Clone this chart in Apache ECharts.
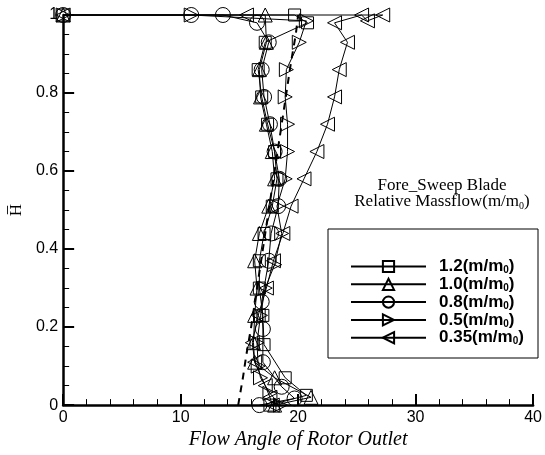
<!DOCTYPE html>
<html><head><meta charset="utf-8">
<script src="https://cdn.jsdelivr.net/npm/echarts@6/dist/echarts.min.js"></script>
<style>html,body{margin:0;padding:0;background:#fff}#c{width:545px;height:455px}</style>
</head><body><div id="c"></div>
<script>
// Series data: [flow angle, relative height H]
const s12 = [[17.6,0],[20.7,0.025],[18.9,0.07],[17.1,0.155],[17.0,0.23],[16.7,0.30],[16.7,0.37],[17.1,0.44],[17.8,0.51],[18.2,0.58],[18.0,0.65],[17.4,0.72],[16.9,0.79],[16.6,0.86],[17.2,0.93],[20.8,0.98],[19.7,1.0],[0,1.0]];
const s10 = [[18.0,0],[21.1,0.02],[18.0,0.07],[16.3,0.11],[16.2,0.16],[16.3,0.23],[16.5,0.30],[16.3,0.37],[16.7,0.44],[17.5,0.51],[18.0,0.58],[17.8,0.65],[17.3,0.72],[16.8,0.79],[16.7,0.86],[17.3,0.93],[17.2,1.0],[0,1.0]];
const s08 = [[16.7,0],[19.7,0.017],[18.6,0.047],[17.0,0.11],[17.0,0.195],[16.9,0.265],[17.5,0.37],[17.7,0.44],[18.3,0.51],[18.4,0.58],[18.0,0.65],[17.6,0.72],[17.1,0.79],[16.9,0.86],[17.5,0.93],[16.5,0.98],[13.6,1.0],[10.9,1.0],[0,1.0]];
const s05 = [[18.5,0],[17.6,0.03],[16.8,0.07],[16.6,0.10],[16.5,0.16],[16.8,0.23],[17.2,0.30],[18.0,0.36],[18.6,0.44],[18.2,0.51],[18.9,0.58],[19.1,0.65],[19.1,0.72],[18.9,0.79],[19.0,0.86],[20.1,0.93],[20.7,0.985],[10.9,1.0],[0,1.0]];
const s035 = [[17.8,0],[17.6,0.02],[17.2,0.05],[16.3,0.11],[16.1,0.16],[16.6,0.23],[17.3,0.30],[17.9,0.37],[18.7,0.44],[19.4,0.51],[20.5,0.58],[21.6,0.65],[22.5,0.72],[23.1,0.79],[23.5,0.86],[24.2,0.93],[23.1,0.98],[25.4,1.0],[25.9,0.985],[27.2,1.0],[15.6,1.0],[0,1.0]];
const sDash = [[14.9,0],[15.3,0.07],[15.6,0.13],[16.0,0.2],[16.5,0.3],[17.0,0.4],[17.5,0.5],[18.0,0.6],[18.5,0.7],[19.0,0.8],[19.4,0.88],[19.8,0.95],[20.0,1.0]];
const names = ['1.2','1.0','0.8','0.5','0.35'];
const xTicks = [0,10,20,30,40];
const yTicks = [0,0.2,0.4,0.6,0.8,1];

const chart = echarts.init(document.getElementById('c'));
const mk = (name, data, symbol, size, rot) => ({
  name, type:'line', data, symbol, symbolSize:size, symbolRotate:rot, showAllSymbol:true,
  clip:false, smooth:false,
  lineStyle:{color:'#000', width:1},
  itemStyle:{color:'rgba(0,0,0,0)', borderColor:'#000', borderWidth:1},
  emphasis:{disabled:true}, animation:false
});
chart.setOption({
  animation:false,
  grid:{left:62, right:10, top:15, bottom:38},
  xAxis:{type:'value', min:xTicks[0], max:xTicks[xTicks.length-1], interval:10,
    name:'Flow Angle of Rotor Outlet', nameLocation:'middle', nameGap:19,
    nameTextStyle:{fontFamily:'Liberation Serif', fontStyle:'italic', fontSize:20, color:'#000'},
    axisLine:{lineStyle:{color:'#000', width:2.5}},
    axisTick:{inside:true, length:11, lineStyle:{color:'#000', width:2}},
    minorTick:{show:true, splitNumber:5, length:6, lineStyle:{color:'#000', width:1}},
    splitLine:{show:false},
    axisLabel:{color:'#000', fontFamily:'Liberation Sans', fontSize:16, margin:4}},
  yAxis:{type:'value', min:yTicks[0], max:yTicks[yTicks.length-1], interval:0.2,
    name:'H\u0305', nameLocation:'middle', nameGap:33, nameRotate:90,
    nameTextStyle:{fontFamily:'Liberation Serif', fontSize:17, color:'#000'},
    axisLine:{lineStyle:{color:'#000', width:2.5}},
    axisTick:{inside:true, length:11, lineStyle:{color:'#000', width:2}},
    minorTick:{show:true, splitNumber:4, length:6, lineStyle:{color:'#000', width:1}},
    splitLine:{show:false},
    axisLabel:{color:'#000', fontFamily:'Liberation Sans', fontSize:16, margin:5}},
  legend:{orient:'vertical', left:345, top:253, itemWidth:75, itemHeight:14, itemGap:0.3,
    data:names,
    formatter: n => '{a|' + n + '(m/m}{s|0}{a|)}',
    textStyle:{color:'#000', padding:[0,0,0,8],
      rich:{a:{fontFamily:'Liberation Sans', fontWeight:'bold', fontSize:17, lineHeight:18, color:'#000'},
            s:{fontFamily:'Liberation Sans', fontWeight:'bold', fontSize:10, lineHeight:10, verticalAlign:'bottom', color:'#000'}}}},
  graphic:[
    {type:'rect', shape:{x:328, y:229, width:210, height:129}, style:{fill:'none', stroke:'#000', lineWidth:1}},
    {type:'text', x:442, y:186, style:{text:'Fore_Sweep Blade', font:'17px "Liberation Serif"', fill:'#000', align:'center', verticalAlign:'middle'}},
    {type:'text', x:442, y:202, style:{text:'{a|Relative Massflow(m/m}{s|0}{a|)}', fill:'#000', align:'center', verticalAlign:'middle',
      rich:{a:{fontFamily:'Liberation Serif', fontSize:17, lineHeight:18, fill:'#000'}, s:{fontFamily:'Liberation Serif', fontSize:10, lineHeight:10, verticalAlign:'bottom', fill:'#000'}}}}
  ],
  series:[
    mk('1.2', s12, 'rect', 12, 0),
    mk('1.0', s10, 'triangle', 14, 0),
    mk('0.8', s08, 'circle', 15, 0),
    mk('0.5', s05, 'triangle', 14, -90),
    mk('0.35', s035, 'triangle', 14, 90),
    {name:'dash', type:'line', data:sDash, symbol:'none', clip:false,
     lineStyle:{color:'#000', width:2, type:[7,6]}, emphasis:{disabled:true}}
  ]
});
</script></body></html>
